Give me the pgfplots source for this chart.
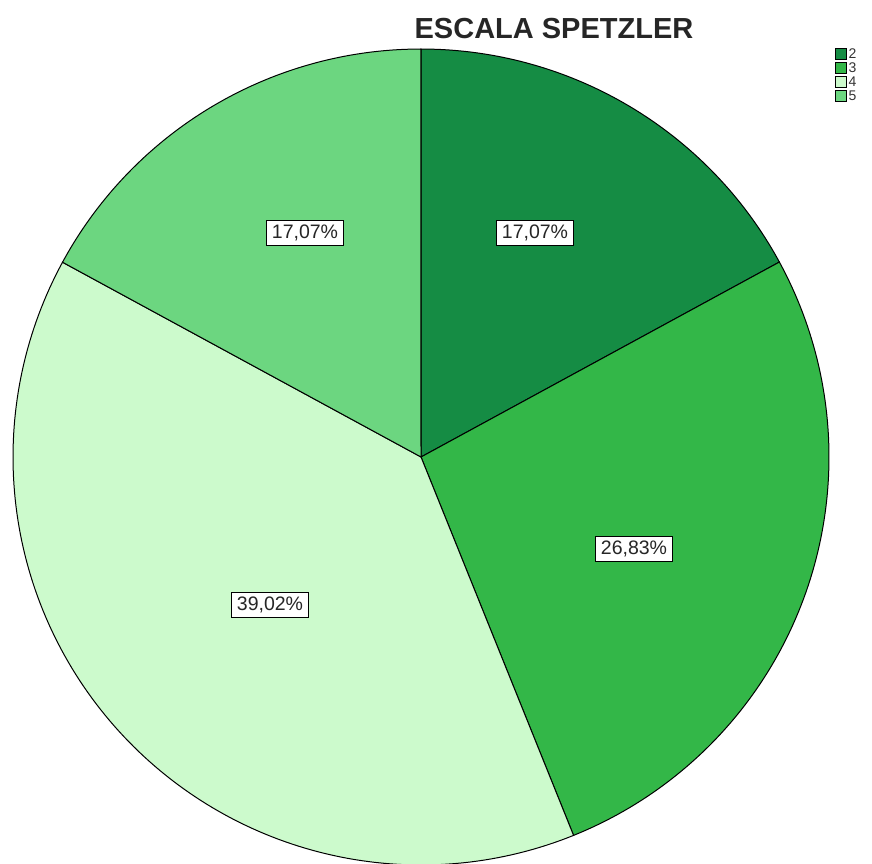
\documentclass[border=0pt]{standalone}
\usepackage{pgfplots}
\pgfplotsset{compat=1.18}
\usepackage{fontspec}
\setmainfont{Liberation Sans}
\definecolor{cA}{RGB}{21,140,68}
\definecolor{cB}{RGB}{51,183,72}
\definecolor{cC}{RGB}{204,250,204}
\definecolor{cD}{RGB}{108,214,128}
% percentages of the slices (2, 3, 4, 5)
\def\pA{17.07}
\def\pB{26.83}
\def\pC{39.02}
\def\pD{17.07}
\pgfmathsetmacro{\aO}{90}
\pgfmathsetmacro{\aA}{\aO-3.6*\pA}
\pgfmathsetmacro{\aB}{\aA-3.6*\pB}
\pgfmathsetmacro{\aC}{\aB-3.6*\pC}
\pgfmathsetmacro{\aD}{\aC-3.6*\pD}
\def\cx{421}
\def\cy{406}
\def\rr{408}
\begin{document}
\begin{tikzpicture}
\begin{axis}[
  hide axis, scale only axis,
  width=872pt, height=863pt,
  xmin=0, xmax=872, ymin=0, ymax=863,
  legend style={at={(axis cs:835,815)}, anchor=north west, draw=none, fill=none,
    inner sep=0pt, row sep=2pt,
    nodes={inner xsep=1.5pt, inner ysep=0pt, text height=9.5pt, text depth=0pt,
      font=\fontsize{14}{14}\selectfont, text=black!80}},
  legend cell align=left,
  legend image code/.code={\draw[#1, line width=0.8pt] (0pt,-5.5pt) rectangle (11pt,5.5pt);},
]
\addplot[forget plot, fill=cA, draw=black, line width=1pt, domain=\aA:\aO, samples=80, variable=\t]
  ({\cx+\rr*cos(\t)},{\cy+\rr*sin(\t)}) -- (axis cs:\cx,\cy) -- cycle;
\addplot[forget plot, fill=cB, draw=black, line width=1pt, domain=\aB:\aA, samples=100, variable=\t]
  ({\cx+\rr*cos(\t)},{\cy+\rr*sin(\t)}) -- (axis cs:\cx,\cy) -- cycle;
\addplot[forget plot, fill=cC, draw=black, line width=1pt, domain=\aC:\aB, samples=140, variable=\t]
  ({\cx+\rr*cos(\t)},{\cy+\rr*sin(\t)}) -- (axis cs:\cx,\cy) -- cycle;
\addplot[forget plot, fill=cD, draw=black, line width=1pt, domain=\aD:\aC, samples=80, variable=\t]
  ({\cx+\rr*cos(\t)},{\cy+\rr*sin(\t)}) -- (axis cs:\cx,\cy) -- cycle;
\addlegendimage{fill=cA, draw=black}\addlegendentry{2}
\addlegendimage{fill=cB, draw=black}\addlegendentry{3}
\addlegendimage{fill=cC, draw=black}\addlegendentry{4}
\addlegendimage{fill=cD, draw=black}\addlegendentry{5}
\tikzset{lab/.style={draw=black, fill=white, line width=1pt, font=\fontsize{19.5}{21}\selectfont,
  inner xsep=5pt, inner ysep=4.5pt, text height=13.5pt, text depth=2pt, text=black!85}}
\node[lab] at (axis cs:305,630) {17,07\%};
\node[lab] at (axis cs:535,630) {17,07\%};
\node[lab] at (axis cs:634,314) {26,83\%};
\node[lab] at (axis cs:270,258) {39,02\%};
\node[font=\bfseries\fontsize{29}{32}\selectfont, text=black!85] at (axis cs:554,834) {ESCALA SPETZLER};
\end{axis}
\pgfresetboundingbox
\path[use as bounding box] (current axis.south west) rectangle (current axis.north east);
\end{tikzpicture}
\end{document}
